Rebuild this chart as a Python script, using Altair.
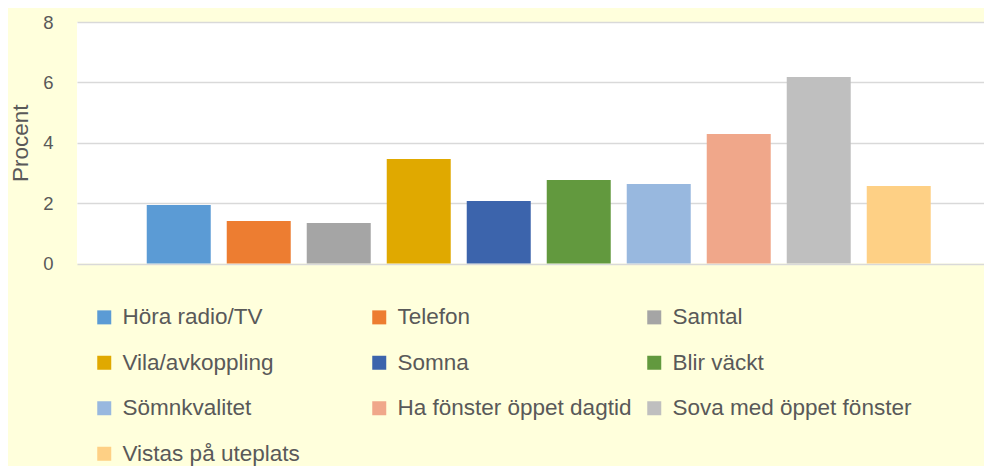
import altair as alt
import pandas as pd

categories = ["Höra radio/TV", "Telefon", "Samtal", "Vila/avkoppling", "Somna",
              "Blir väckt", "Sömnkvalitet", "Ha fönster öppet dagtid",
              "Sova med öppet fönster", "Vistas på uteplats"]
values = [1.94, 1.41, 1.34, 3.46, 2.07, 2.77, 2.63, 4.29, 6.18, 2.57]
colors = ["#5B9BD5", "#ED7D31", "#A5A5A5", "#E0A900", "#3C64AC",
          "#62993E", "#98B8DF", "#F0A78A", "#BFBFBF", "#FED085"]
y_ticks = [0, 2, 4, 6, 8]

df = pd.DataFrame({"cat": categories, "val": values})

FONT = "Liberation Sans"
TXT = "#595959"

chart = alt.Chart(df).mark_bar().encode(
    x=alt.X("cat:N", sort=categories, axis=None,
            scale=alt.Scale(paddingInner=0.2, paddingOuter=0.76875, align=0.567)),
    y=alt.Y("val:Q", scale=alt.Scale(domain=[0, 8], nice=False),
            axis=alt.Axis(values=y_ticks, title="Procent", ticks=False, domain=False,
                          labelFont=FONT, labelFontSize=18.5, labelColor=TXT,
                          labelPadding=24, titleFont=FONT, titleFontSize=22.5,
                          titleFontWeight="normal", titleColor=TXT, titlePadding=10,
                          gridColor="#D9D9D9", gridWidth=1.6)),
    color=alt.Color("cat:N", sort=categories,
                    scale=alt.Scale(domain=categories, range=colors),
                    legend=alt.Legend(orient="none", legendX=16, legendY=284,
                                      columns=3, direction="horizontal",
                                      gridAlign="all", title=None,
                                      symbolType="square", symbolSize=196,
                                      symbolStrokeWidth=0, symbolOpacity=1,
                                      labelFont=FONT, labelFontSize=22.5,
                                      labelColor=TXT, labelOffset=7,
                                      columnPadding=6, rowPadding=22.5,
                                      labelLimit=400, padding=0)),
).properties(
    width=907, height=241.5,
    autosize=alt.AutoSizeParams(type="none"),
    padding={"left": 69, "top": 14, "right": 0, "bottom": 202},
    background="#FFFFDC",
).configure_view(fill="white", strokeWidth=0)

chart.save("out.html", embed_options={"renderer": "svg", "actions": False})
